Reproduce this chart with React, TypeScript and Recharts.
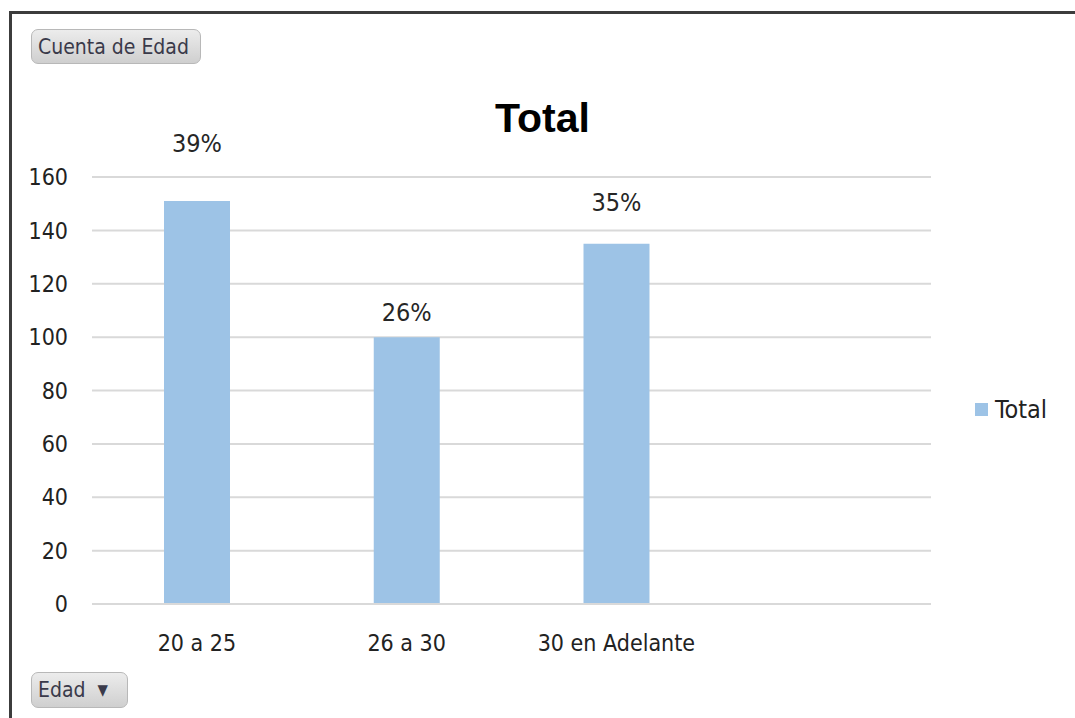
import { BarChart, Bar, XAxis, YAxis, CartesianGrid, Legend, LabelList } from 'recharts';

const categories = ['20 a 25', '26 a 30', '30 en Adelante', ''];
const counts = [151, 100, 135, null];
const yTicks = [0, 20, 40, 60, 80, 100, 120, 140, 160];
// how far each percent label sits above its bar (dragged by hand in the original)
const labelLift = [58, 25, 41];

const total = counts.reduce((s: number, v) => s + (v ?? 0), 0);
const data = categories.map((name, i) => ({ name, value: counts[i] }));

const BAR = '#9DC3E6';
const GRID = '#d9d9d9';
const FONT = '"DejaVu Sans Condensed", "DejaVu Sans", sans-serif';

const btn: React.CSSProperties = {
  position: 'absolute',
  boxSizing: 'border-box',
  borderRadius: 7,
  border: '1px solid #b8b8b8',
  background: 'linear-gradient(#ececec, #cfcfcf)',
  color: '#3a3a4a',
  fontFamily: FONT,
  fontSize: 21,
  display: 'flex',
  alignItems: 'center',
  paddingLeft: 6,
};

function PctLabel(props: any) {
  const { x, y, width, value, index } = props;
  if (value == null) return null;
  const pct = Math.round((value / total) * 100) + '%';
  return (
    <text x={x + width / 2} y={y - labelLift[index]} textAnchor="middle" dominantBaseline="central"
      fontFamily={FONT} fontSize={25} fill="#262626">
      {pct}
    </text>
  );
}

function LegendBox() {
  return (
    <div style={{ display: 'flex', alignItems: 'center', fontFamily: FONT, fontSize: 25, color: '#222' }}>
      <span style={{ width: 13, height: 13, background: BAR, display: 'inline-block', marginRight: 7 }} />
      Total
    </div>
  );
}

export default function App() {
  return (
    <div style={{ position: 'absolute', left: 0, top: 0, width: 1075, height: 718, background: '#fff', overflow: 'hidden' }}>
      <div style={{ position: 'absolute', left: 9, top: 11, width: 1200, height: 900, borderLeft: '3px solid #3c3c3c', borderTop: '3px solid #3c3c3c' }} />
      <BarChart width={1075} height={718} data={data} margin={{ top: 177, right: 144, bottom: 54, left: 10 }}
        style={{ position: 'absolute', left: 0, top: 0 }}>
        <CartesianGrid vertical={false} stroke={GRID} strokeWidth={2} />
        <XAxis dataKey="name" height={60} axisLine={{ stroke: GRID, strokeWidth: 2 }} tickLine={false} tickMargin={25}
          tick={{ fontSize: 23, fill: '#222', fontFamily: FONT }} />
        <YAxis width={82} domain={[0, 160]} ticks={yTicks} axisLine={false} tickLine={false} tickMargin={18}
          tick={{ fontSize: 23, fill: '#222', fontFamily: FONT }} />
        <Legend content={<LegendBox />} layout="horizontal" verticalAlign="middle" align="center"
          wrapperStyle={{ position: 'absolute', left: 975, top: 395, width: 100 }} />
        <Bar dataKey="value" fill={BAR} barSize={66} isAnimationActive={false}>
          <LabelList dataKey="value" content={<PctLabel />} />
        </Bar>
      </BarChart>
      <div style={{ position: 'absolute', left: 495, top: 95, fontFamily: '"Liberation Sans", Arial, sans-serif', fontWeight: 'bold', fontSize: 41, color: '#000' }}>
        Total
      </div>
      <div style={{ ...btn, left: 31, top: 29, width: 170, height: 35 }}>Cuenta de Edad</div>
      <div style={{ ...btn, left: 31, top: 672, width: 97, height: 36 }}>
        Edad
        <span style={{ marginLeft: 12, fontSize: 15 }}>▼</span>
      </div>
    </div>
  );
}
